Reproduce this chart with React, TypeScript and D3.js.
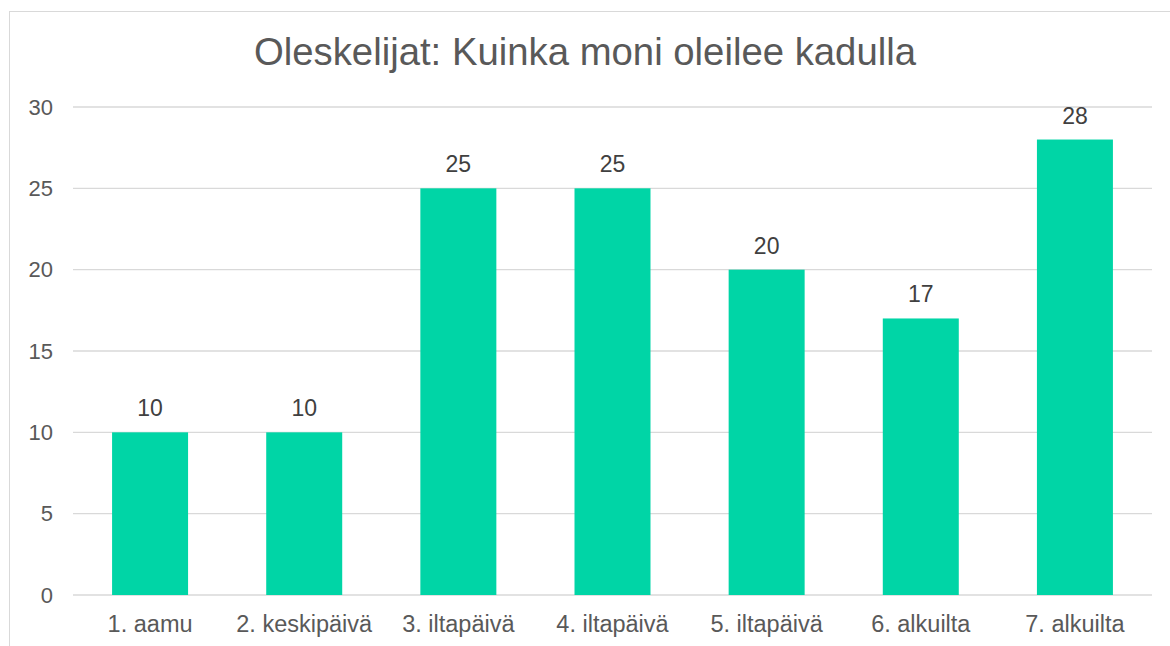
import * as d3 from 'd3'

const categories = ['1. aamu', '2. keskipäivä', '3. iltapäivä', '4. iltapäivä', '5. iltapäivä', '6. alkuilta', '7. alkuilta']
const values = [10, 10, 25, 25, 20, 17, 28]
const yTicks = [0, 5, 10, 15, 20, 25, 30]
const title = 'Oleskelijat: Kuinka moni oleilee kadulla'

const W = 1170
const H = 646
const margin = { top: 107, right: 18, bottom: 51, left: 73 }
const font = '"Liberation Sans", Arial, sans-serif'
const textColor = '#595959'

const App = () => {
  const xScale = d3.scaleBand()
    .domain(categories)
    .range([margin.left, W - margin.right])
    .paddingInner(0.507)
    .paddingOuter(0.2535)

  const yScale = d3.scaleLinear()
    .domain([0, 30])
    .range([H - margin.bottom, margin.top])

  const grid = yTicks.map(t => (
    <g key={t}>
      <line
        x1={margin.left} x2={W - margin.right}
        y1={yScale(t)} y2={yScale(t)}
        stroke="#d9d9d9" strokeWidth={1.3}
      />
      <text x={53} y={yScale(t)} dy="0.35em" textAnchor="end" fontSize={22} fill={textColor}>{t}</text>
    </g>
  ))

  const bars = values.map((v, i) => {
    const c = categories[i]
    const x = xScale(c)
    return (
      <g key={c}>
        <rect
          x={x} y={yScale(v)}
          width={xScale.bandwidth()}
          height={yScale(0) - yScale(v)}
          fill="#00D5A6"
        />
        <text x={x + xScale.bandwidth() / 2} y={yScale(v) - 16} textAnchor="middle" fontSize={23} fill="#404040">{v}</text>
        <text x={x + xScale.bandwidth() / 2} y={632} textAnchor="middle" fontSize={23.5} fill={textColor}>{c}</text>
      </g>
    )
  })

  return (
    <svg width={W} height={H} style={{ position: 'absolute', left: 0, top: 0, fontFamily: font }}>
      <rect x={0} y={0} width={W} height={H} fill="#fff" />
      <rect x={9.5} y={11.5} width={W + 20} height={H + 20} fill="none" stroke="#d9d9d9" strokeWidth={1} />
      <text x={585} y={65} textAnchor="middle" fontSize={38.3} fill={textColor}>{title}</text>
      {grid}
      {bars}
    </svg>
  )
}

export default App
